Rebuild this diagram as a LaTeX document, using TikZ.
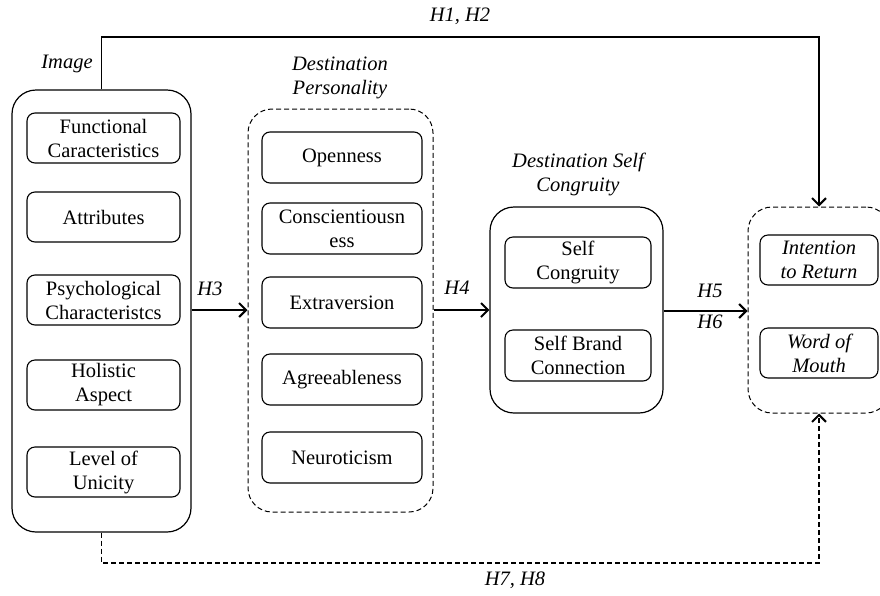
\documentclass[tikz,border=0pt]{standalone}
\usepackage{fontspec}
\setmainfont{Liberation Serif}
\usetikzlibrary{arrows.meta}
\begin{document}
\begin{tikzpicture}[x=1pt,y=-1pt,
  font=\fontsize{20.5}{24}\selectfont,
  outerbox/.style={draw, line width=1.2pt, rounded corners=24pt, inner sep=0pt},
  dashbox/.style={draw, line width=1pt, rounded corners=24pt, inner sep=0pt, dash pattern=on 5pt off 3pt},
  itembox/.style={draw, line width=1.1pt, rounded corners=8pt, align=center, inner sep=0pt},
  lbl/.style={font=\fontsize{20.5}{24}\selectfont\itshape, align=center},
  arr/.style={line width=1.3pt, -{Straight Barb[length=7pt,width=14pt,line width=2pt]}},
]
\useasboundingbox (0,0) rectangle (880,595);

% Image group
\node[outerbox, minimum width=179pt, minimum height=442pt] (img) at (101.5,311) {};
\node[itembox, minimum width=153pt, minimum height=50pt] (fc) at (103.5,138) {Functional\\Caracteristics};
\node[itembox, minimum width=153pt, minimum height=50pt] (at) at (103.5,217) {Attributes};
\node[itembox, minimum width=153pt, minimum height=50pt] (pc) at (103.5,300) {Psychological\\Characteristcs};
\node[itembox, minimum width=153pt, minimum height=50pt] (ha) at (103.5,385) {Holistic\\Aspect};
\node[itembox, minimum width=153pt, minimum height=50pt] (lu) at (103.5,472) {Level of\\Unicity};
\node[lbl] (imglbl) at (67,64) {Image};

% Destination Personality
\node[dashbox, minimum width=185pt, minimum height=403pt] (dp) at (340.5,310.5) {};
\node[itembox, minimum width=160pt, minimum height=51pt] (op) at (342,157.5) {Openness};
\node[itembox, minimum width=160pt, minimum height=51pt] (co) at (342,228.5) {Conscientiousn\\ess};
\node[itembox, minimum width=160pt, minimum height=51pt] (ex) at (342,302.5) {Extraversion};
\node[itembox, minimum width=160pt, minimum height=51pt] (ag) at (342,379.5) {Agreeableness};
\node[itembox, minimum width=160pt, minimum height=51pt] (ne) at (342,457.5) {Neuroticism};
\node[lbl] (dplbl) at (340,78) {Destination\\Personality};

% Destination Self Congruity
\node[outerbox, minimum width=173pt, minimum height=206pt] (dsc) at (576.5,310) {};
\node[itembox, minimum width=146pt, minimum height=51pt] (sc) at (578,262.5) {Self\\Congruity};
\node[itembox, minimum width=146pt, minimum height=51pt] (sb) at (578,355.5) {Self Brand\\Connection};
\node[lbl] (dsclbl) at (578,174) {Destination Self\\Congruity};

% Outcomes
\node[dashbox, minimum width=142pt, minimum height=206pt] (out) at (819,310) {};
\node[itembox, minimum width=118pt, minimum height=50pt, font=\fontsize{20.5}{24}\selectfont\itshape] (ir) at (819,260) {Intention\\to Return};
\node[itembox, minimum width=118pt, minimum height=50pt, font=\fontsize{20.5}{24}\selectfont\itshape] (wm) at (819,353) {Word of\\Mouth};

% Connectors
\draw[arr] (img.east |- 0,310) -- (dp.west |- 0,310);
\node[lbl] (h3) at (210,289) {H3};
\draw[arr] (dp.east |- 0,310) -- (dsc.west |- 0,310);
\node[lbl] (h4) at (457,288) {H4};
\draw[arr] (dsc.east |- 0,311) -- (out.west |- 0,311);
\node[lbl] (h5) at (710,291) {H5};
\node[lbl] (h6) at (710,322) {H6};

\coordinate (topy) at (0,37);
\draw[arr] (img.north) -- (img.north |- topy) -| (out.north);
\node[lbl] (h12) at (460,16) {H1, H2};

\coordinate (boty) at (0,563);
\draw[arr, dash pattern=on 5pt off 3pt] (img.south) -- (img.south |- boty) -| (out.south);
\node[lbl] (h78) at (515,580) {H7, H8};
\end{tikzpicture}
\end{document}
